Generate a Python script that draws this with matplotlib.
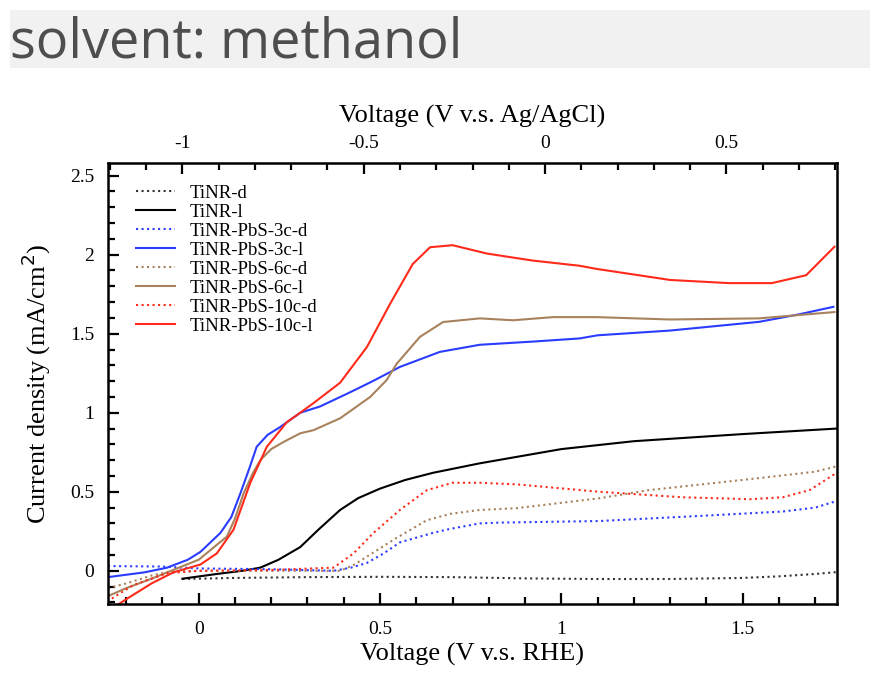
import numpy as np
import matplotlib.pyplot as plt
from matplotlib.ticker import MultipleLocator, FixedLocator
from matplotlib.patches import Rectangle

# potential offset between RHE and Ag/AgCl scales
OFFSET = 0.955

# TiNR dark / light
tinr_d_x = [-0.045, 0.1, 0.3, 0.5, 0.7, 0.9, 1.1, 1.3, 1.5, 1.6, 1.7, 1.76]
tinr_d_y = [-0.052, -0.045, -0.04, -0.038, -0.04, -0.048, -0.052, -0.052, -0.045, -0.035, -0.02, -0.008]
tinr_l_x = [-0.045, 0.05, 0.12, 0.17, 0.22, 0.28, 0.33, 0.39, 0.44, 0.5, 0.57, 0.646, 0.775, 0.9, 1.0, 1.2, 1.5, 1.76]
tinr_l_y = [-0.05, -0.02, 0.0, 0.02, 0.07, 0.15, 0.26, 0.385, 0.46, 0.52, 0.575, 0.62, 0.68, 0.73, 0.77, 0.82, 0.865, 0.9]

# TiNR-PbS-3c
pbs3_d_x = [-0.25, -0.1, 0.0, 0.2, 0.372, 0.42, 0.464, 0.51, 0.555, 0.646, 0.693, 0.775, 0.83, 1.105, 1.38, 1.61, 1.7, 1.757]
pbs3_d_y = [0.03, 0.027, 0.015, 0.01, 0.0, 0.02, 0.05, 0.11, 0.18, 0.24, 0.265, 0.30, 0.305, 0.315, 0.347, 0.375, 0.40, 0.44]
pbs3_l_x = [-0.25, -0.15, -0.087, -0.03, 0.005, 0.06, 0.09, 0.115, 0.14, 0.16, 0.19, 0.225, 0.28, 0.335, 0.418, 0.48,
            0.555, 0.665, 0.775, 0.92, 1.05, 1.1, 1.3, 1.545, 1.65, 1.75]
pbs3_l_y = [-0.04, -0.01, 0.02, 0.07, 0.12, 0.24, 0.34, 0.49, 0.65, 0.785, 0.86, 0.91, 1.0, 1.04, 1.13, 1.2,
            1.29, 1.385, 1.43, 1.45, 1.47, 1.49, 1.52, 1.575, 1.62, 1.67]

# TiNR-PbS-6c
pbs6_d_x = [-0.25, -0.2, -0.13, -0.08, 0.0, 0.2, 0.39, 0.43, 0.464, 0.537, 0.629, 0.693, 0.775, 0.876, 1.105, 1.24,
            1.52, 1.70, 1.757]
pbs6_d_y = [-0.11, -0.08, -0.03, -0.005, 0.0, 0.0, 0.0, 0.04, 0.09, 0.196, 0.32, 0.36, 0.385, 0.396, 0.459, 0.51,
            0.58, 0.627, 0.66]
pbs6_l_x = [-0.25, -0.2, -0.13, -0.087, 0.0, 0.078, 0.1, 0.124, 0.15, 0.17, 0.2, 0.234, 0.28, 0.317, 0.39, 0.43,
            0.473, 0.518, 0.546, 0.61, 0.674, 0.775, 0.867, 0.977, 1.097, 1.3, 1.545, 1.753]
pbs6_l_y = [-0.16, -0.11, -0.05, -0.01, 0.07, 0.217, 0.33, 0.49, 0.62, 0.70, 0.77, 0.815, 0.87, 0.89, 0.965, 1.03,
            1.1, 1.206, 1.31, 1.48, 1.574, 1.597, 1.585, 1.605, 1.605, 1.59, 1.597, 1.637]

# TiNR-PbS-10c
pbs10_d_x = [-0.25, -0.243, -0.18, -0.087, 0.0, 0.2, 0.372, 0.427, 0.482, 0.555, 0.629, 0.70, 0.775, 0.876, 1.105,
             1.335, 1.52, 1.61, 1.684, 1.757]
pbs10_d_y = [-0.2, -0.18, -0.09, -0.015, 0.0, 0.005, 0.02, 0.11, 0.24, 0.385, 0.51, 0.557, 0.557, 0.547, 0.50,
             0.465, 0.453, 0.465, 0.51, 0.617]
pbs10_l_x = [-0.22, -0.2, -0.13, -0.07, 0.005, 0.05, 0.096, 0.142, 0.188, 0.243, 0.28, 0.316, 0.39, 0.464, 0.528,
             0.59, 0.638, 0.70, 0.795, 0.92, 1.05, 1.097, 1.30, 1.463, 1.58, 1.675, 1.753]
pbs10_l_y = [-0.21, -0.18, -0.08, -0.01, 0.04, 0.11, 0.26, 0.555, 0.785, 0.94, 1.0, 1.06, 1.19, 1.416, 1.69,
             1.94, 2.047, 2.06, 2.007, 1.963, 1.93, 1.91, 1.84, 1.82, 1.82, 1.87, 2.05]

top_ticks = [-1, -0.5, 0, 0.5]

blue = '#2a3cff'
brown = '#a8825c'
red = '#ff2a1a'

plt.rcParams['font.family'] = ['Liberation Serif', 'DejaVu Serif']

fig = plt.figure(figsize=(8.8, 6.77), dpi=100)

# header band with the solvent name
fig.patches.append(Rectangle((10 / 880, 1 - 68 / 677), 860 / 880, 58 / 677, transform=fig.transFigure,
                             facecolor='#f1f1f1', edgecolor='none', zorder=0))
fig.text(10 / 880, 1 - 58 / 677, 'solvent: methanol', fontsize=39, color='#4e4e4e',
         family=['Open Sans', 'DejaVu Sans'], ha='left', va='baseline')

ax = fig.add_axes([108 / 880, 1 - 604 / 677, 729 / 880, 441 / 677])

ax.plot(tinr_d_x, tinr_d_y, ':', color='#333333', lw=1.5, label='TiNR-d')
ax.plot(tinr_l_x, tinr_l_y, '-', color='black', lw=1.5, label='TiNR-l')
ax.plot(pbs3_d_x, pbs3_d_y, ':', color=blue, lw=1.5, label='TiNR-PbS-3c-d')
ax.plot(pbs3_l_x, pbs3_l_y, '-', color=blue, lw=1.5, label='TiNR-PbS-3c-l')
ax.plot(pbs6_d_x, pbs6_d_y, ':', color=brown, lw=1.5, label='TiNR-PbS-6c-d')
ax.plot(pbs6_l_x, pbs6_l_y, '-', color=brown, lw=1.5, label='TiNR-PbS-6c-l')
ax.plot(pbs10_d_x, pbs10_d_y, ':', color=red, lw=1.5, label='TiNR-PbS-10c-d')
ax.plot(pbs10_l_x, pbs10_l_y, '-', color=red, lw=1.5, label='TiNR-PbS-10c-l')

ax.set_xlim(-0.25, 1.76)
ax.set_ylim(-0.21, 2.58)

ax.xaxis.set_major_locator(MultipleLocator(0.5))
ax.xaxis.set_minor_locator(MultipleLocator(0.1))
ax.yaxis.set_major_locator(MultipleLocator(0.5))
ax.yaxis.set_minor_locator(MultipleLocator(0.1))
ax.xaxis.set_major_formatter(lambda v, p: f'{v:g}')
ax.yaxis.set_major_formatter(lambda v, p: f'{v:g}')

ax.tick_params(which='both', direction='in', top=False, right=False, labelsize=14, width=1.6)
ax.tick_params(which='major', length=8)
ax.tick_params(which='minor', length=5)
ax.tick_params(axis='x', pad=12)
ax.tick_params(axis='y', pad=10)
for s in ax.spines.values():
    s.set_linewidth(1.8)

ax.set_xlabel('Voltage (V v.s. RHE)', fontsize=19, labelpad=4)
ax.set_ylabel('Current density (mA/cm$^2$)', fontsize=19, labelpad=12)

top = ax.secondary_xaxis('top', functions=(lambda v: v - OFFSET, lambda v: v + OFFSET))
top.xaxis.set_major_locator(FixedLocator(top_ticks))
top.xaxis.set_minor_locator(MultipleLocator(0.1))
top.xaxis.set_major_formatter(lambda v, p: f'{v:g}')
top.tick_params(which='both', direction='in', labelsize=14, width=1.6, pad=8)
top.tick_params(which='major', length=8)
top.tick_params(which='minor', length=5)
top.set_xlabel('Voltage (V v.s. Ag/AgCl)', fontsize=19, labelpad=9)

ax.legend(loc='upper left', frameon=False, fontsize=13.5, handlelength=2.1, labelspacing=0.1,
          borderaxespad=0.0, bbox_to_anchor=(0.028, 0.968), handletextpad=0.75)

fig.savefig('out.png', dpi=100)
